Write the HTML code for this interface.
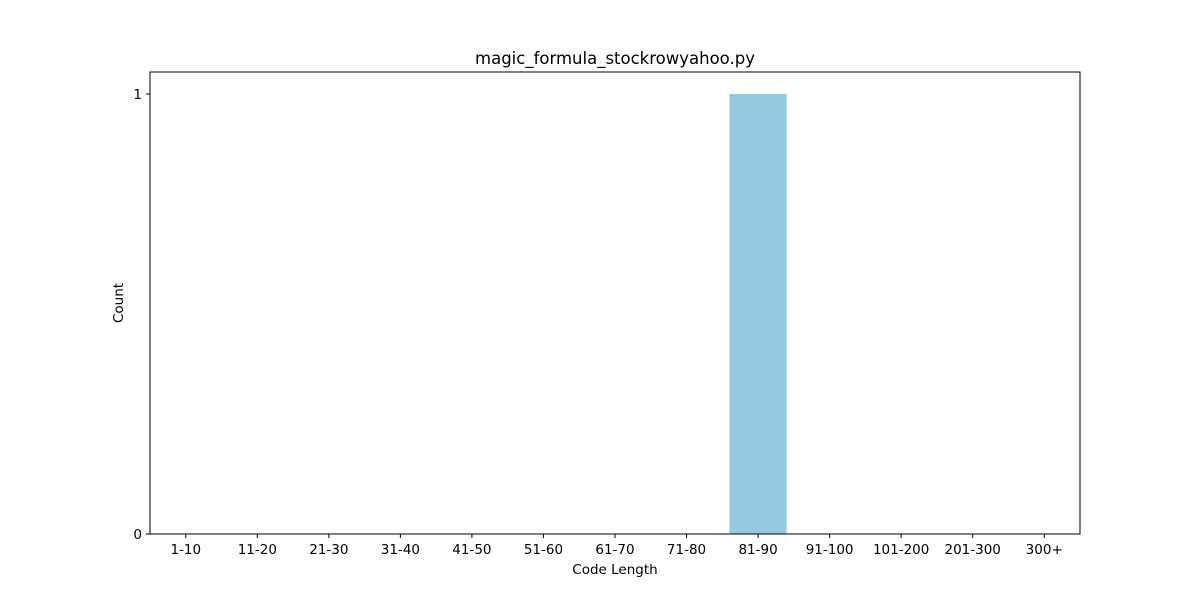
<!DOCTYPE html>
<html><head><meta charset="utf-8"><style>
body{margin:0;background:#fff;}
svg{font-family:"DejaVu Sans","Liberation Sans",sans-serif;}
</style></head><body>
<svg id="chart" width="1200" height="600" xmlns="http://www.w3.org/2000/svg">
<rect width="1200" height="600" fill="#fff"/>
<text x="615" y="64" text-anchor="middle" font-size="16.5">magic_formula_stockrowyahoo.py</text>
<g id="bars"></g>
<g id="xticks"></g>
<g id="yticks"></g>
<rect x="150" y="72" width="930" height="462" fill="none" stroke="#000" stroke-width="1"/>
<text x="615" y="574" text-anchor="middle" font-size="13.5">Code Length</text>
<text x="123" y="303" text-anchor="middle" font-size="13.5" transform="rotate(-90 123 303)">Count</text>
</svg>
<script>
const categories=["1-10","11-20","21-30","31-40","41-50","51-60","61-70","71-80","81-90","91-100","101-200","201-300","300+"];
const counts=[0,0,0,0,0,0,0,0,1,0,0,0,0];
const yTicks=[0,1];
const ns="http://www.w3.org/2000/svg";
const L=150,R=1080,T=72,B=534,yMax=1.05;
const step=(R-L)/categories.length;
const xf=i=>L+(i+0.5)*step;
const yf=v=>B-(v/yMax)*(B-T);
const bars=document.getElementById('bars'),xt=document.getElementById('xticks'),yt=document.getElementById('yticks');
categories.forEach((c,i)=>{
  const r=document.createElementNS(ns,'rect');
  r.setAttribute('x',xf(i)-0.4*step);r.setAttribute('width',0.8*step);
  r.setAttribute('y',yf(counts[i]));r.setAttribute('height',B-yf(counts[i]));
  r.setAttribute('fill','#96c9de');
  
  
  bars.appendChild(r);
  const l=document.createElementNS(ns,'line');
  l.setAttribute('x1',xf(i));l.setAttribute('x2',xf(i));l.setAttribute('y1',B);l.setAttribute('y2',B+4);l.setAttribute('stroke','#000');
  
  
  xt.appendChild(l);
  const t=document.createElementNS(ns,'text');
  t.setAttribute('x',xf(i));t.setAttribute('y',B+20);t.setAttribute('text-anchor','middle');t.setAttribute('font-size','13.5');
  t.textContent=c;
  
  
  xt.appendChild(t);
});
yTicks.forEach(v=>{
  const l=document.createElementNS(ns,'line');
  l.setAttribute('x1',L-4);l.setAttribute('x2',L);l.setAttribute('y1',yf(v));l.setAttribute('y2',yf(v));l.setAttribute('stroke','#000');
  
  
  yt.appendChild(l);
  const t=document.createElementNS(ns,'text');
  t.setAttribute('x',L-8);t.setAttribute('y',yf(v)+5);t.setAttribute('text-anchor','end');t.setAttribute('font-size','13.5');
  t.textContent=v;
  
  
  yt.appendChild(t);
});
</script>
</body></html>
